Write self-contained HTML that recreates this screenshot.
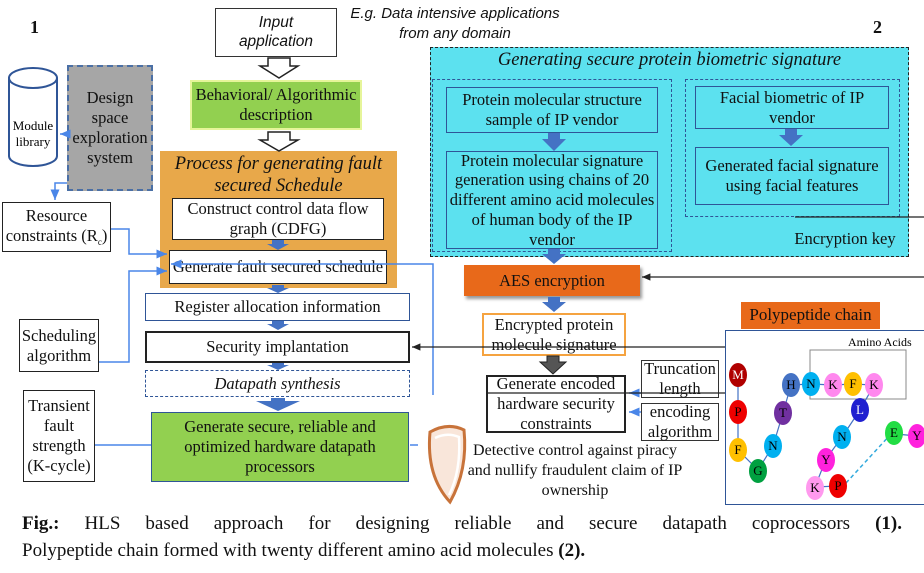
<!DOCTYPE html>
<html><head><meta charset="utf-8"><style>
body{margin:0;width:924px;height:573px;background:#fff;position:relative;overflow:hidden;font-family:"Liberation Serif",serif;color:#111}
.b{position:absolute;box-sizing:border-box;display:flex;align-items:center;justify-content:center;text-align:center;line-height:1.2;font-size:16.5px;white-space:nowrap}
.t{position:absolute;text-align:center;line-height:1.3;font-size:16px;white-space:nowrap}
svg{position:absolute;left:0;top:0}
</style></head><body>
<div class="t" style="left:30px;top:16px;font-weight:bold;font-size:18px">1</div>
<div class="t" style="left:873px;top:16px;font-weight:bold;font-size:18px">2</div>
<div class="t" style="left:320px;top:4px;width:270px;font-family:'Liberation Sans',sans-serif;font-style:italic;font-size:15px;line-height:1.35">E.g. Data intensive applications<br>from any domain</div>

<div class="b" style="left:215px;top:8px;width:122px;height:49px;border:1.5px solid #333;font-family:'Liberation Sans',sans-serif;font-style:italic;font-size:15.5px">Input<br>application</div>
<div class="b" style="left:190px;top:80px;width:172px;height:50px;background:#92d050;border:2px solid #e6f59a">Behavioral/ Algorithmic<br>description</div>
<div class="b" style="left:160px;top:151px;width:237px;height:137px;background:#e8a84a;align-items:flex-start;padding-top:2px;font-style:italic;font-size:18.5px;line-height:1.2">Process for generating fault<br>secured Schedule</div>
<div class="b" style="left:172px;top:198px;width:212px;height:42px;background:#fff;border:1.5px solid #222">Construct control data flow<br>graph (CDFG)</div>
<div class="b" style="left:169px;top:250px;width:218px;height:34px;background:#fff;border:1.5px solid #222">Generate fault secured schedule</div>
<div class="b" style="left:145px;top:293px;width:265px;height:28px;border:1.5px solid #2f5597">Register allocation information</div>
<div class="b" style="left:145px;top:331px;width:265px;height:32px;border:2px solid #222">Security implantation</div>
<div class="b" style="left:145px;top:370px;width:265px;height:27px;border:1.5px dashed #2f5597;font-style:italic">Datapath synthesis</div>
<div class="b" style="left:151px;top:412px;width:258px;height:70px;background:#92d050;border:1.5px solid #2f5597">Generate secure, reliable and<br>optimized hardware datapath<br>processors</div>

<div class="b" style="left:67px;top:65px;width:86px;height:126px;background:#a6a6a6;border:2px dashed #4a6fa5;font-size:16.5px">Design<br>space<br>exploration<br>system</div>
<div class="b" style="left:2px;top:202px;width:109px;height:50px;border:1.5px solid #222"><div>Resource<br>constraints (R<span style="font-size:9px;vertical-align:-4px">c</span>)</div></div>
<div class="b" style="left:19px;top:319px;width:80px;height:53px;border:1.5px solid #222">Scheduling<br>algorithm</div>
<div class="b" style="left:23px;top:390px;width:72px;height:92px;border:1.5px solid #222">Transient<br>fault<br>strength<br>(K-cycle)</div>

<div class="b" style="left:430px;top:47px;width:479px;height:210px;background:#5ce1ef;border:1.5px dashed #222;align-items:flex-start;font-style:italic;font-size:18.5px;padding-top:1px">Generating secure protein biometric signature</div>
<div class="b" style="left:432px;top:79px;width:240px;height:173px;border:1.5px dashed #2f5597"></div>
<div class="b" style="left:685px;top:79px;width:215px;height:138px;border:1.5px dashed #2f5597"></div>
<div class="b" style="left:446px;top:87px;width:212px;height:46px;border:1.5px solid #2f5597">Protein molecular structure<br>sample of IP vendor</div>
<div class="b" style="left:446px;top:151px;width:212px;height:98px;border:1.5px solid #2f5597;line-height:1.2">Protein molecular signature<br>generation using chains of 20<br>different amino acid molecules<br>of human body of the IP<br>vendor</div>
<div class="b" style="left:695px;top:86px;width:194px;height:43px;border:1.5px solid #2f5597">Facial biometric of IP<br>vendor</div>
<div class="b" style="left:695px;top:147px;width:194px;height:58px;border:1.5px solid #2f5597">Generated facial signature<br>using facial features</div>
<div class="t" style="left:790px;top:228px;width:110px;font-size:16.5px">Encryption key</div>

<div class="b" style="left:464px;top:265px;width:176px;height:31px;background:#e8691a;box-shadow:2px 3px 3px #999">AES encryption</div>
<div class="b" style="left:482px;top:313px;width:144px;height:43px;border:2.5px solid #f5a340">Encrypted protein<br>molecule signature</div>
<div class="b" style="left:486px;top:375px;width:140px;height:58px;border:2px solid #222">Generate encoded<br>hardware security<br>constraints</div>
<div class="b" style="left:641px;top:360px;width:78px;height:38px;border:1.5px solid #333">Truncation<br>length</div>
<div class="b" style="left:641px;top:403px;width:78px;height:38px;border:1.5px solid #333">encoding<br>algorithm</div>
<div class="t" style="left:455px;top:441px;width:240px;line-height:1.25;font-size:16px">Detective control against piracy<br>and nullify fraudulent claim of IP<br>ownership</div>

<div class="b" style="left:741px;top:302px;width:139px;height:27px;background:#e8691a;font-size:17px">Polypeptide chain</div>
<div class="b" style="left:725px;top:330px;width:205px;height:175px;border:1.5px solid #2f5597"></div>

<svg width="924" height="573">
<defs>
<marker id="ab" markerWidth="8" markerHeight="8" refX="7" refY="4" orient="auto"><path d="M0,1 L7,4 L0,7z" fill="#4a86e8"/></marker>
<marker id="ak" markerWidth="8" markerHeight="8" refX="7" refY="4" orient="auto"><path d="M0,1 L7,4 L0,7z" fill="#222"/></marker>
</defs>
<path d="M268,58 h22 v8 h8 l-19,12 l-19,-12 h8z" fill="#fff" stroke="#222" stroke-width="1.5"/>
<path d="M268,132 h22 v8 h8 l-19,11 l-19,-11 h8z" fill="#fff" stroke="#222" stroke-width="1.5"/>
<path d="M9,78 v78 a24,10 0 0 0 48,0 v-78" fill="#fff" stroke="#2f5597" stroke-width="2"/>
<ellipse cx="33" cy="78" rx="24" ry="10" fill="#fff" stroke="#2f5597" stroke-width="2"/>
<text x="33" y="130" font-size="13" text-anchor="middle" font-family="Liberation Serif">Module</text>
<text x="33" y="146" font-size="13" text-anchor="middle" font-family="Liberation Serif">library</text>
<g fill="#4472c4">
<path d="M272,240 h12 v4 h5 l-11,6 l-11,-6 h5z"/>
<path d="M272,285 h12 v3 h5 l-11,5 l-11,-5 h5z"/>
<path d="M272,321 h12 v3 h5 l-11,6 l-11,-6 h5z"/>
<path d="M272,363 h12 v2 h5 l-11,5 l-11,-5 h5z"/>
<path d="M271,398 h14 v3 h15 l-22,10 l-22,-10 h15z"/>
<path d="M548,133 h12 v6 h6 l-12,12 l-12,-12 h6z"/>
<path d="M548,249 h12 v5 h6 l-12,10 l-12,-10 h6z"/>
<path d="M548,297 h12 v5 h6 l-12,10 l-12,-10 h6z"/>
<path d="M785,129 h12 v6 h6 l-12,11 l-12,-11 h6z"/>
</g>
<path d="M547,356 h12 v6 h7 l-13,12 l-13,-12 h7z" fill="#555" stroke="#222"/>
<g stroke="#4a86e8" stroke-width="1.5" fill="none">
<path d="M68,134 h-8" marker-end="url(#ab)"/>
<path d="M67,183 h-12 v17" marker-end="url(#ab)"/>
<path d="M111,229 h18 v25 h38" marker-end="url(#ab)"/>
<path d="M99,362 h30 v-91 h38" marker-end="url(#ab)"/>
<path d="M95,445 h56"/>
<path d="M433,395 v-131 h-262" marker-end="url(#ab)"/>
<path d="M410,445 h8"/>
<path d="M641,393 h-12" marker-end="url(#ab)"/>
<path d="M641,412 h-12" marker-end="url(#ab)"/>
</g>
<g stroke="#222" stroke-width="1.2" fill="none">
<path d="M795,217 h129"/>
<path d="M924,277 h-282" marker-end="url(#ak)"/>
<path d="M725,347 h-313" marker-end="url(#ak)"/>
<path d="M486,393 h239"/>
</g>
<path d="M430,432 q18,-10 34,-2 q4,40 -14,72 q-24,-26 -20,-70z" fill="#f9e6da" stroke="#c8733a" stroke-width="3"/>
<path d="M435,438 q12,-6 24,-1 q2,34 -10,58" stroke="#fff" stroke-width="2.5" fill="none"/>
<rect x="810" y="350" width="96" height="49" fill="none" stroke="#888" stroke-width="1"/>
<text x="848" y="346" font-size="12" font-family="Liberation Serif">Amino Acids</text>
<g stroke="#4472c4" stroke-width="1.2" fill="none">
<path d="M738,375 L738,412 L738,450 L758,470 L773,446 L783,413 L791,385 L811,384 L833,385 L853,384 L874,385 L860,410 L842,437 L826,459 L815,487 L838,486"/>
<path d="M896,434 L917,436"/>
</g>
<path d="M846,483 L891,434" stroke="#33aadd" stroke-width="1.5" stroke-dasharray="4,3"/>
<g font-family="Liberation Serif" font-size="13" text-anchor="middle">
<ellipse cx="738" cy="375" rx="9" ry="12" fill="#b00000"/><text x="738" y="379" fill="#fff">M</text>
<ellipse cx="738" cy="412" rx="9" ry="12" fill="#ee0000"/><text x="738" y="416">P</text>
<ellipse cx="738" cy="450" rx="9" ry="12" fill="#ffc000"/><text x="738" y="454">F</text>
<ellipse cx="758" cy="471" rx="9" ry="12" fill="#00a040"/><text x="758" y="475">G</text>
<ellipse cx="773" cy="446" rx="9" ry="12" fill="#00b0f0"/><text x="773" y="450">N</text>
<ellipse cx="783" cy="413" rx="9" ry="12" fill="#7030a0"/><text x="783" y="417">T</text>
<ellipse cx="791" cy="385" rx="9" ry="12" fill="#4472c4"/><text x="791" y="389">H</text>
<ellipse cx="811" cy="384" rx="9" ry="12" fill="#00b0f0"/><text x="811" y="388">N</text>
<ellipse cx="833" cy="385" rx="9" ry="12" fill="#ff88ee"/><text x="833" y="389">K</text>
<ellipse cx="853" cy="384" rx="9" ry="12" fill="#ffc000"/><text x="853" y="388">F</text>
<ellipse cx="874" cy="385" rx="9" ry="12" fill="#ff88ee"/><text x="874" y="389">K</text>
<ellipse cx="860" cy="410" rx="9" ry="12" fill="#2020d0"/><text x="860" y="414" fill="#fff">L</text>
<ellipse cx="842" cy="437" rx="9" ry="12" fill="#00b0f0"/><text x="842" y="441">N</text>
<ellipse cx="826" cy="460" rx="9" ry="12" fill="#ff22dd"/><text x="826" y="464">Y</text>
<ellipse cx="815" cy="488" rx="9" ry="12" fill="#ff99ee"/><text x="815" y="492">K</text>
<ellipse cx="838" cy="486" rx="9" ry="12" fill="#ee0000"/><text x="838" y="490">P</text>
<ellipse cx="894" cy="433" rx="9" ry="12" fill="#22dd44"/><text x="894" y="437">E</text>
<ellipse cx="917" cy="436" rx="9" ry="12" fill="#ff22dd"/><text x="917" y="440">Y</text>
</g>
</svg>

<div style="position:absolute;left:22px;top:510px;width:880px;font-size:19px;line-height:27px;text-align:justify;text-align-last:justify"><b>Fig.:</b> HLS based approach for designing reliable and secure datapath coprocessors <b>(1).</b></div>
<div style="position:absolute;left:22px;top:537px;font-size:19px;line-height:27px">Polypeptide chain formed with twenty different amino acid molecules <b>(2).</b></div>
</body></html>
